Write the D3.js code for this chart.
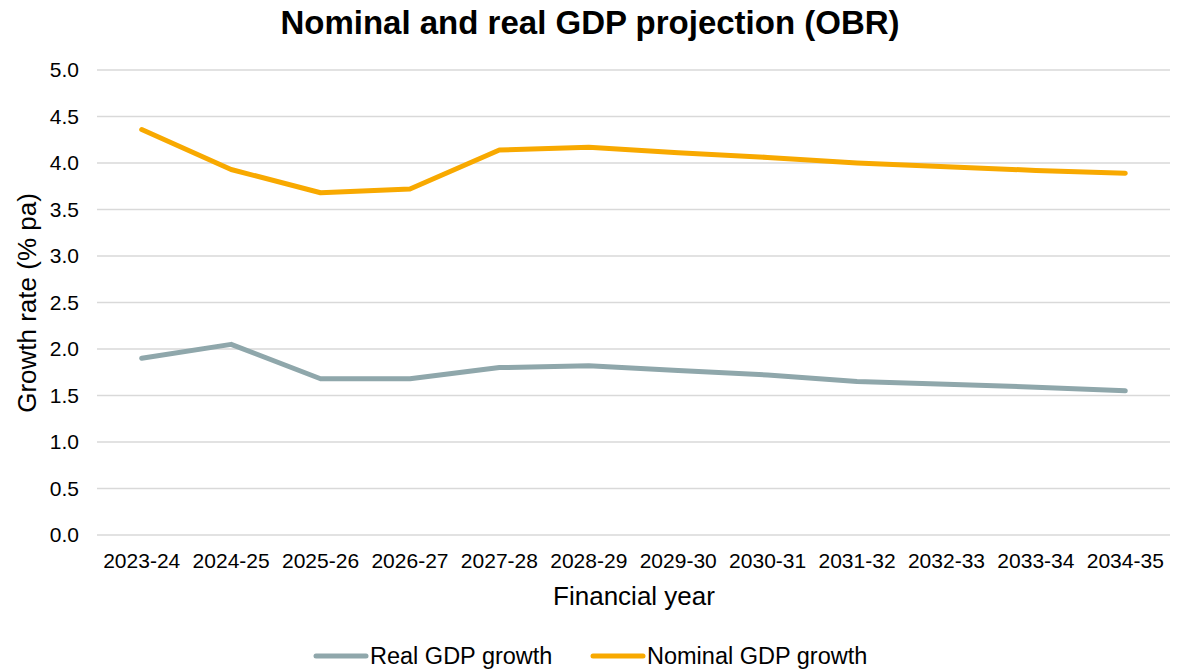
<!DOCTYPE html>
<html>
<head>
<meta charset="utf-8">
<script src="https://cdn.jsdelivr.net/npm/d3@7"></script>
<style>
  html, body { margin: 0; padding: 0; background: #fff; overflow: hidden; }
  svg { display: block; font-family: "Liberation Sans", Arial, sans-serif; }
</style>
</head>
<body>
<svg id="chart" width="1183" height="671"></svg>
<script>
// Financial years on the x axis
const years = ["2023-24","2024-25","2025-26","2026-27","2027-28","2028-29",
               "2029-30","2030-31","2031-32","2032-33","2033-34","2034-35"];
// Growth rates, % per annum
const realGrowth    = [1.90, 2.05, 1.68, 1.68, 1.80, 1.82, 1.77, 1.72, 1.65, 1.62, 1.59, 1.55];
const nominalGrowth = [4.36, 3.93, 3.68, 3.72, 4.14, 4.17, 4.11, 4.06, 4.00, 3.96, 3.92, 3.89];
const yTicks = [0, 0.5, 1, 1.5, 2, 2.5, 3, 3.5, 4, 4.5, 5];

const series = [
  { name: "Real GDP growth", values: realGrowth, color: "#8FA7AB" },
  { name: "Nominal GDP growth", values: nominalGrowth, color: "#F8A900" }
];

const svg = d3.select("#chart");
const margin = { left: 97, right: 13, top: 70, bottom: 136 };
const W = 1183, H = 671;
const FONT = "Liberation Sans, Arial, sans-serif";

const x = d3.scaleBand().domain(years).range([margin.left, W - margin.right]);
const y = d3.scaleLinear().domain([0, 5]).range([H - margin.bottom, margin.top]);

// Horizontal gridlines
svg.append("g")
  .selectAll("line").data(yTicks).join("line")
  .attr("x1", margin.left).attr("x2", W - margin.right)
  .attr("y1", d => y(d)).attr("y2", d => y(d))
  .attr("stroke", "#d9d9d9").attr("stroke-width", 1.5);

// Y axis labels
const yAxis = svg.append("g")
  .attr("transform", `translate(${margin.left},0)`)
  .call(d3.axisLeft(y).tickValues(yTicks).tickFormat(d3.format(".1f")).tickSize(0).tickPadding(18));
yAxis.select(".domain").remove();
yAxis.selectAll("text").attr("font-size", 21).attr("fill", "#000").attr("font-family", FONT);

// X axis labels
const xAxis = svg.append("g")
  .attr("transform", `translate(0,${H - margin.bottom})`)
  .call(d3.axisBottom(x).tickSize(0).tickPadding(18));
xAxis.select(".domain").remove();
xAxis.selectAll("text").attr("font-size", 21).attr("fill", "#000").attr("font-family", FONT);

// Lines
const line = d3.line()
  .x((d, i) => x(years[i]) + x.bandwidth() / 2)
  .y(d => y(d));

svg.append("g").selectAll("path").data(series).join("path")
  .attr("d", d => line(d.values))
  .attr("fill", "none")
  .attr("stroke", d => d.color)
  .attr("stroke-width", 5)
  .attr("stroke-linejoin", "round")
  .attr("stroke-linecap", "round");

// Title
svg.append("text")
  .attr("x", 590).attr("y", 34)
  .attr("text-anchor", "middle")
  .attr("font-size", 33).attr("font-weight", "bold")
  .text("Nominal and real GDP projection (OBR)");

// Axis titles
svg.append("text")
  .attr("x", 634).attr("y", 605)
  .attr("text-anchor", "middle")
  .attr("font-size", 26)
  .text("Financial year");

svg.append("text")
  .attr("transform", `translate(36,303) rotate(-90)`)
  .attr("text-anchor", "middle")
  .attr("font-size", 26)
  .text("Growth rate (% pa)");

// Legend along the bottom edge
const legendX = [316, 593];
const legend = svg.append("g").selectAll("g").data(series).join("g")
  .attr("transform", (d, i) => `translate(${legendX[i]},656)`);
legend.append("line")
  .attr("x1", 0).attr("x2", 50).attr("y1", 0).attr("y2", 0)
  .attr("stroke", d => d.color).attr("stroke-width", 5).attr("stroke-linecap", "round");
legend.append("text")
  .attr("x", 54).attr("y", 8)
  .attr("font-size", 23.5)
  .text(d => d.name);
</script>
</body>
</html>
